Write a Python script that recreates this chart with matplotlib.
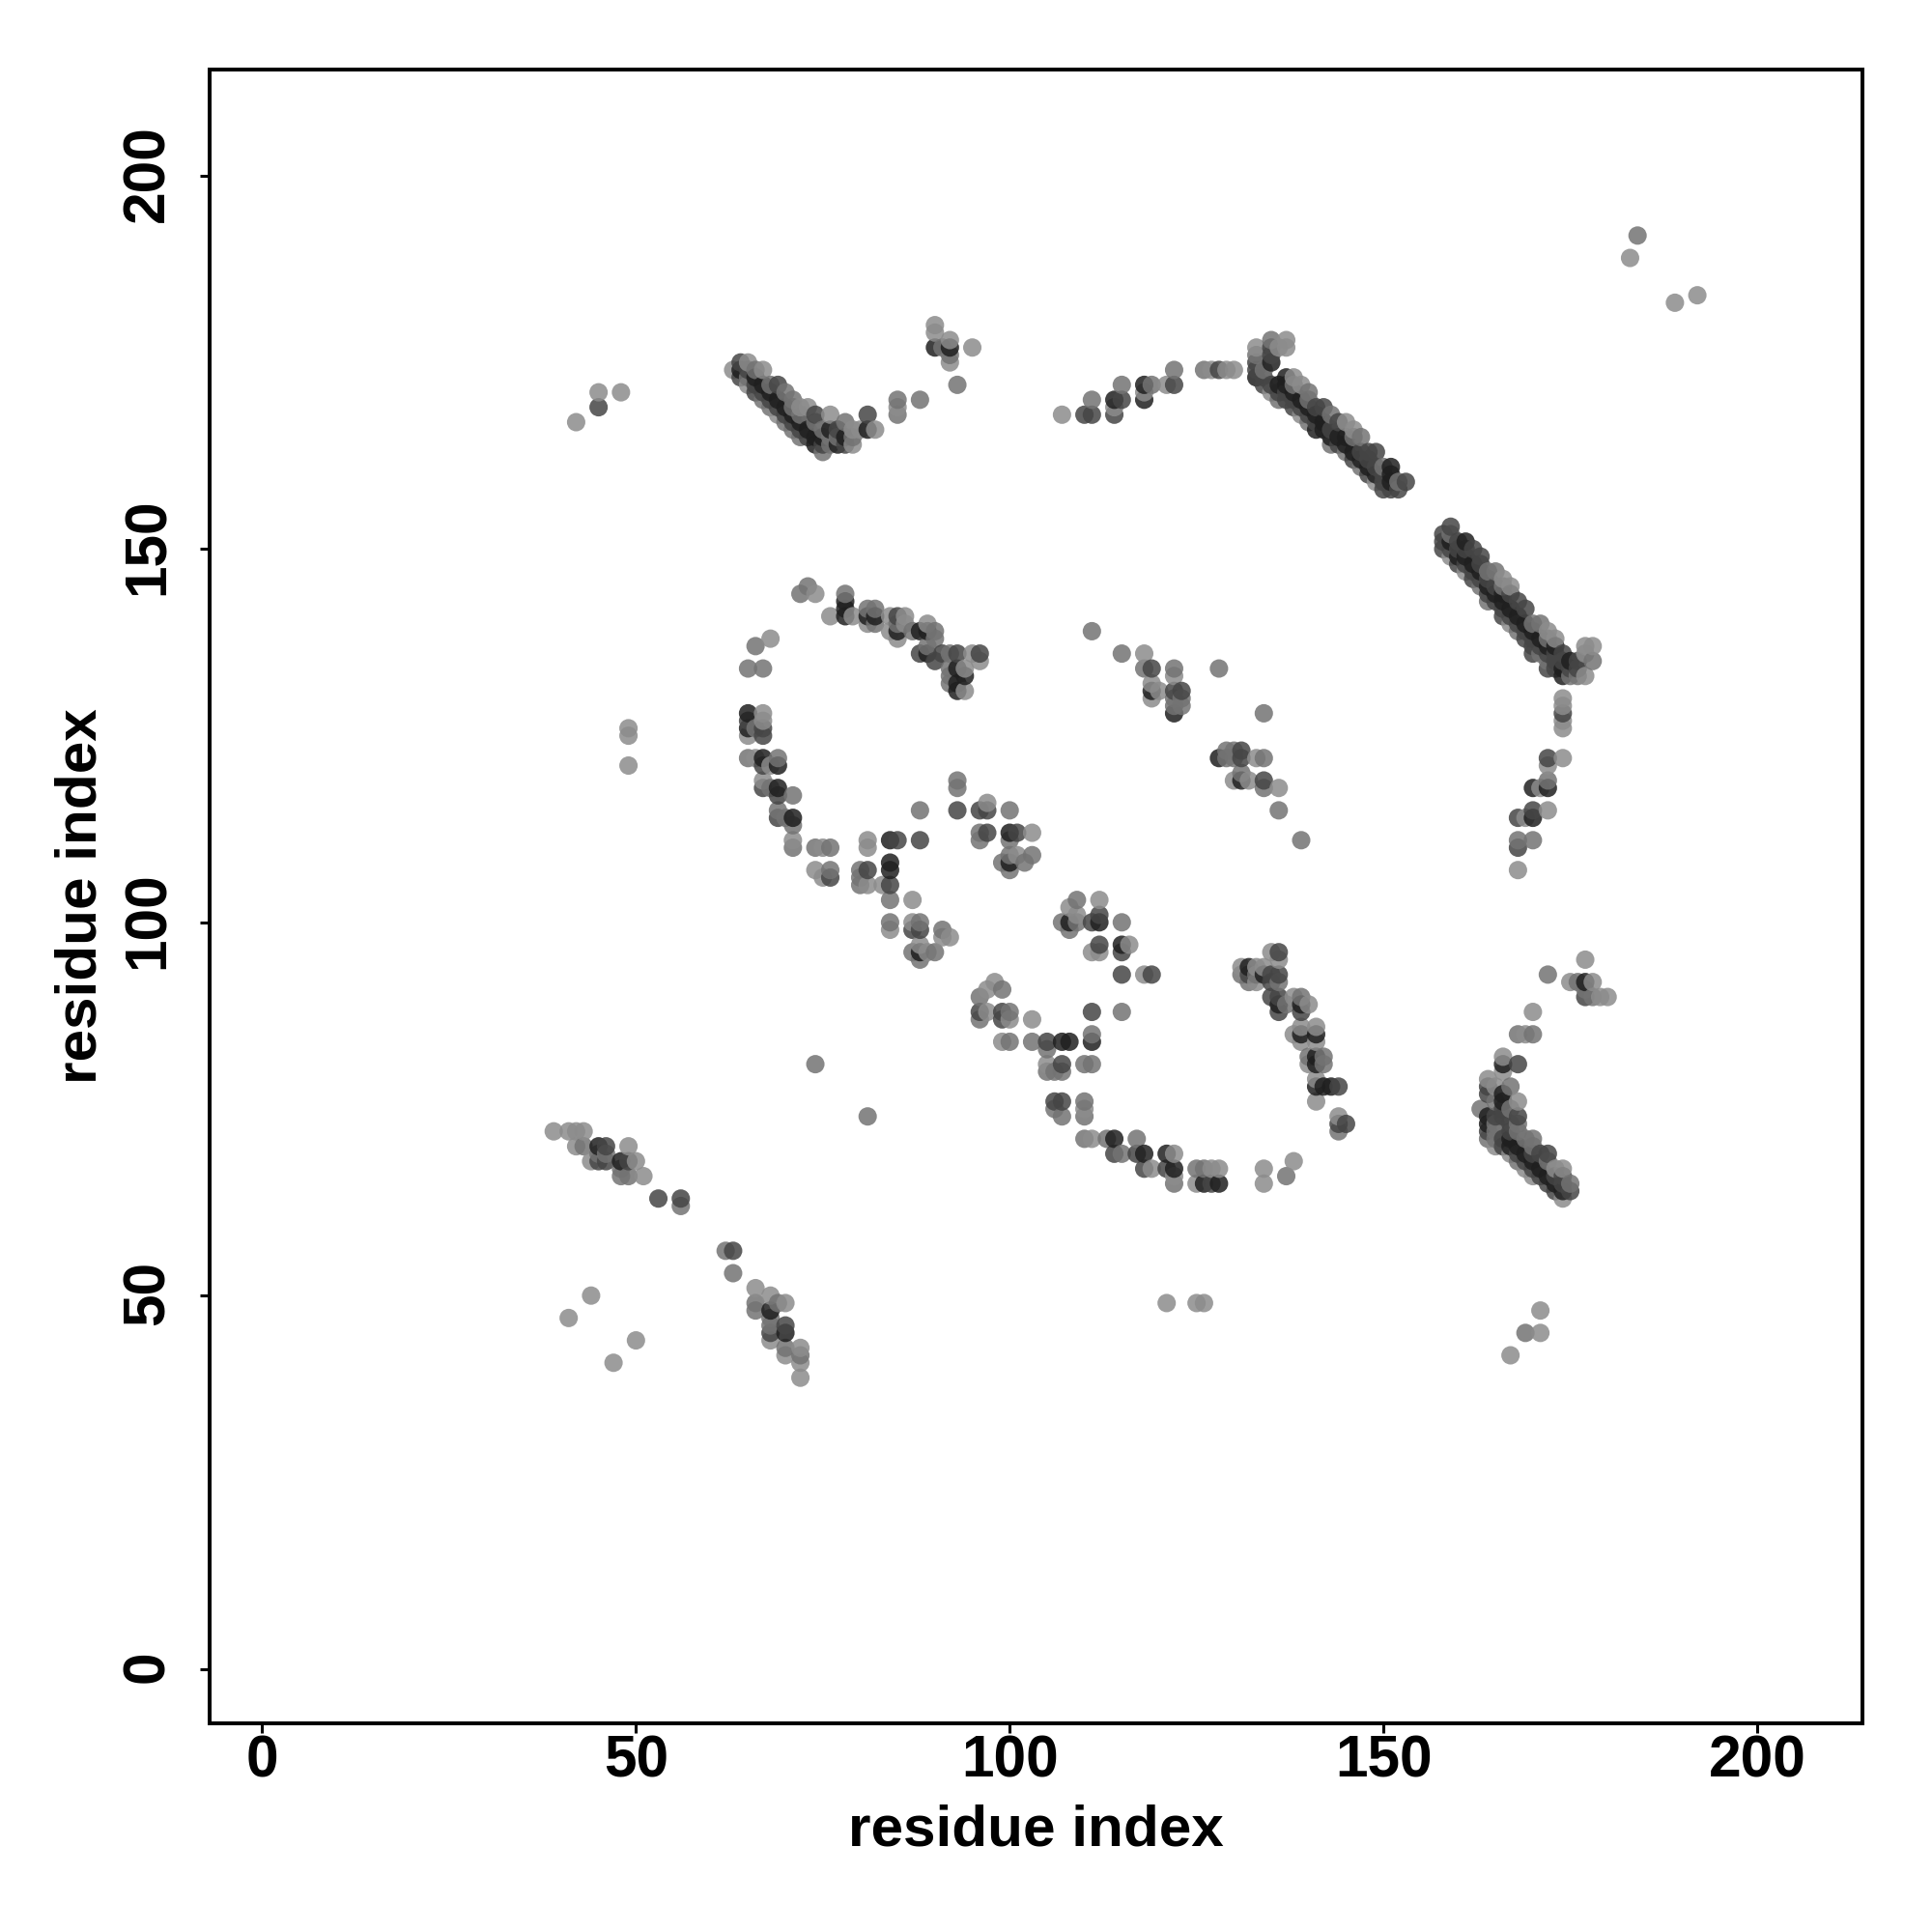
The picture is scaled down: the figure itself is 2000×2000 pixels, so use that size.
import numpy as np
import matplotlib
matplotlib.use("Agg")
import matplotlib.pyplot as plt
from matplotlib.transforms import ScaledTranslation

plt.rcParams['font.family'] = ['Liberation Sans', 'DejaVu Sans']
plt.rcParams['font.weight'] = 'bold'

# contacts, (residue x, residue y), one list per grey level
light_pts = [
    (63,174),(65,175),(67,174),(69,168),(72,169),(73,169),(76,168),(79,166),(79,164),(80,166),
    (90,180),(90,179),(92,178),(92,175),(85,169),(82,166),(65,172),(95,177),
    (136,177),(137,178),(137,177),(133,177),(135,171),(138,173),(139,172),(139,168),(145,167),(146,166),(149,159),
    (159,149),(161,147),(166,146),(167,145),(167,140),(172,139),(173,138),(177,137),(178,137),(177,136),(177,133),
    (174,130),(174,129),(174,127),(174,126),(174,122),(172,121),(171,118),(172,115),(169,114),(168,107),
    (74,144),(76,141),(79,141),(81,140),(84,141),(86,141),(85,138),(84,139),(86,140),(89,140),(95,136),(96,135),(94,134),(94,131),
    (68,138),(67,128),(67,127),(65,125),(66,122),(68,121),(67,119),(71,111),(75,110),(74,107),(75,106),
    (81,111),(81,110),(81,105),(83,105),(87,103),(97,116),(103,112),(101,109),(84,99),(87,100),(92,98),(91,98),(88,97),(89,96),
    (112,103),(108,102),(109,101),(111,96),(112,96),(116,97),(118,93),(98,92),(97,91),(97,88),(100,87),(103,87),(99,84),
    (105,81),(110,75),(111,71),(119,67),(122,69),(122,66),(125,65),(127,67),(128,67),(134,67),(134,65),(138,68),
    (135,96),(136,95),(131,94),(133,94),(134,94),(133,92),(138,90),(140,89),(138,85),(139,86),(139,84),(141,86),(141,84),(140,81),(141,79),(141,76),(144,74),
    (177,95),(175,92),(178,92),(179,90),(180,90),(170,88),(169,85),(166,82),(164,79),(166,80),(165,78),(168,76),(165,70),(167,69),(169,67),(166,70),(170,66),(173,67),(174,67),(174,63),
    (39,72),(41,72),(42,72),(43,72),(42,70),(44,68),(49,70),(50,68),(51,66),
    (66,51),(68,50),(70,49),(68,44),(70,42),(72,43),(72,41),(72,39),(44,50),(41,47),(50,44),(47,41),
    (167,42),(171,45),(171,48),(121,49),(125,49),(126,49),(49,126),(49,125),(49,121),(42,167),(45,171),(48,171),
    (183,189),(189,183),(192,184),(107,168),(114,169),(118,171),(121,172),(127,174),(129,174),(130,174),
    (118,136),(122,133),(119,132),(120,131),(119,130),(133,122),(130,119),(132,119),(136,118),
]
mid_pts = [
    (65,173),(66,174),(67,170),(68,172),(68,169),(70,171),(70,167),(71,170),(71,169),(71,166),(72,168),(72,165),(74,167),(75,166),(75,163),(76,165),(76,164),(77,165),(78,167),(79,165),
    (91,177),(92,176),(93,172),(85,170),(88,170),(85,168),
    (133,176),(135,178),(134,174),(136,170),(138,172),(140,171),(140,170),(140,167),(143,168),(143,164),(145,163),(146,165),(147,165),(147,161),(150,161),(152,159),
    (159,152),(163,145),(164,147),(164,143),(165,147),(166,145),(168,139),(170,140),(171,140),(171,136),(172,138),(172,135),(175,133),(176,133),(178,135),
    (172,119),(170,111),(168,111),
    (72,144),(73,145),(78,144),(81,142),(82,142),(82,140),(85,140),(87,139),(90,139),(90,138),(89,137),(92,136),(92,134),(92,133),(92,132),
    (66,137),(65,134),(67,134),(66,126),(65,122),(69,122),(68,118),(71,117),(69,115),(70,114),(71,113),(71,110),(74,110),(76,110),(76,107),
    (80,107),(80,106),(80,105),(84,103),(88,115),(93,119),(93,118),(100,115),(96,112),(96,111),(100,111),
    (103,109),(102,108),(100,109),(99,108),(100,107),(84,100),(88,100),(91,99),(87,96),(90,96),(88,95),
    (109,103),(107,100),(109,100),(108,99),(115,100),(99,91),(96,90),(96,87),(100,88),(115,88),(100,84),(103,84),(111,85),(105,83),
    (105,80),(106,80),(107,80),(110,81),(111,81),(106,75),(107,74),(110,76),(110,74),(110,71),(113,71),(117,71),(115,69),(122,65),(125,67),(126,67),(137,66),
    (131,93),(133,93),(132,92),(136,92),(137,89),(139,90),(140,82),(142,82),(142,81),(144,72),
    (172,93),(176,92),(177,91),(178,90),(168,85),(170,85),(163,75),(167,78),(165,76),(167,75),(164,71),(165,73),(165,72),(165,71),(168,73),(168,72),(168,68),(169,71),(170,71),(170,70),(172,68),(175,65),
    (43,70),(45,69),(46,69),(48,67),(48,66),(49,66),(56,62),(62,56),(63,53),(69,49),(66,49),(66,48),(68,47),(68,46),(70,43),(72,42),
    (169,45),(81,74),(74,81),(184,192),(111,170),(115,172),(119,172),(122,174),(126,174),
    (111,139),(115,136),(118,134),(122,134),(128,134),(134,128),(122,130),(123,130),(122,129),(123,129),(129,123),(129,122),(130,123),(130,122),(134,122),(131,120),(134,118),(136,115),(139,111),
]
dark_pts = [
    (64,175),(64,173),(65,174),(66,172),(66,171),(67,171),(68,170),(69,172),(69,169),(70,168),(71,167),(72,166),(73,165),(74,168),(75,164),(77,166),(78,164),(81,168),
    (133,175),(133,174),(134,173),(134,172),(135,177),(135,176),(135,172),(136,171),(137,171),(137,170),(138,170),(138,169),(139,169),(140,168),(141,169),(141,167),(142,169),
    (143,166),(144,167),(144,164),(146,162),(147,163),(148,163),(148,162),(148,160),(149,163),(149,161),(150,160),(150,159),(150,158),(151,158),(152,158),(153,159),
    (158,152),(158,151),(158,150),(159,153),(159,150),(160,151),(160,150),(160,148),(161,150),(161,148),(162,150),(162,147),(162,146),(163,149),(163,148),(163,146),(164,146),(164,144),
    (165,145),(165,143),(166,142),(166,141),(167,144),(167,141),(168,143),(168,140),(169,142),(169,139),(169,138),(170,138),(170,137),(170,136),(171,137),(172,136),(172,134),(173,136),(173,135),(173,134),
    (174,136),(174,135),(175,134),(176,135),(176,134),
    (174,128),(172,122),(170,115),(168,114),(168,110),
    (85,141),(88,136),(90,135),(91,136),(96,136),(93,136),
    (67,126),(67,125),(65,127),(67,121),(67,118),(69,117),(69,114),(76,106),(81,107),(85,111),(88,111),(84,105),(93,115),(96,115),(97,115),(97,112),(101,112),
    (87,99),(88,99),(111,100),(112,101),(112,97),(115,96),(115,93),(119,93),(99,88),(99,87),(96,88),(111,88),(105,84),(107,81),(106,76),(107,76),
    (114,69),(117,69),(118,67),(121,67),(127,65),
    (136,96),(135,93),(136,93),(132,93),(135,92),(135,90),(136,90),(136,88),(139,88),(144,78),(144,73),(145,73),
    (177,90),(168,81),(164,78),(164,77),(166,75),(166,74),(168,74),(164,72),(165,74),(166,71),(166,70),(167,73),(167,72),(168,69),(169,68),(170,69),(170,67),(171,69),(171,66),(172,69),(172,65),(173,66),(173,64),(174,66),(174,65),(175,64),
    (46,70),(45,68),(46,68),(49,68),(53,63),(56,63),(63,56),(68,45),(70,46),(45,169),
    (110,168),(111,168),(114,168),(115,170),(122,172),(128,174),
    (119,134),(122,131),(123,131),(131,123),(131,122),(134,119),
]
darkest_pts = [
    (64,174),(66,173),(67,172),(68,171),(69,170),(70,169),(71,168),(72,167),(73,166),(74,165),(74,164),(75,165),(76,166),(77,164),(78,165),(81,166),
    (90,177),(92,177),
    (133,173),(135,175),(136,172),(137,173),(137,172),(138,171),(139,170),(140,169),(141,168),(141,166),(142,167),(142,166),(143,165),(144,165),(145,165),(145,164),(146,163),(147,162),(148,161),(149,160),(151,161),(151,160),(151,159),
    (159,151),(160,149),(161,151),(161,149),(162,148),(163,147),(164,145),(165,144),(166,144),(166,143),(167,142),(168,141),(169,140),(170,139),(171,138),(172,137),(173,137),(174,134),(174,133),(175,135),
    (172,118),(170,118),(170,114),
    (78,143),(78,142),(78,141),(81,141),(82,141),(85,139),(88,139),(89,139),(89,136),(93,134),(93,132),(93,131),(94,133),
    (65,128),(65,126),(67,122),(69,121),(69,118),(71,114),(84,111),(84,108),(84,107),
    (100,112),(100,108),(88,96),(108,100),(112,100),(115,97),(107,84),(108,84),(111,84),
    (114,71),(118,69),(121,69),(122,67),(126,65),(128,65),
    (132,94),(134,93),(136,89),(139,89),(139,85),(141,85),(141,82),(141,81),(141,78),(142,78),(143,78),
    (177,92),(166,81),(166,77),(166,76),(164,74),(164,73),(167,71),(167,70),(168,70),(169,69),(170,68),(171,67),(172,66),(173,65),(174,64),
    (45,70),(48,68),(68,48),(70,45),
    (114,170),(118,170),(118,172),
    (119,131),(122,128),(128,122),(131,119),
]
grey_levels = [0.55, 0.45, 0.27, 0.12]
tick_values = [0, 50, 100, 150, 200]
axis_label = "residue index"

# stack everything and draw in x then y order, so upper points end up on top
xs, ys, cols = [], [], []
for pts, g in zip([light_pts, mid_pts, dark_pts, darkest_pts], grey_levels):
    for p in pts:
        xs.append(p[0])
        ys.append(p[1])
        cols.append((g, g, g))
xs = np.array(xs)
ys = np.array(ys)
cols = np.array(cols)
order = np.lexsort((ys, xs))

fig = plt.figure(figsize=(10, 10), dpi=200)
ax = fig.add_axes([0.10825, 0.108, 0.8558, 0.85625])
ax.scatter(xs[order], ys[order], c=cols[order], s=47, linewidths=0, alpha=0.85, zorder=3)

ax.set_xlim(-7.1, 214.1)
ax.set_ylim(-7.3, 214.3)
ax.set_xticks(tick_values)
ax.set_yticks(tick_values)
ax.tick_params(axis='x', length=3.6, width=1.1, labelsize=21.8, pad=0.6)
ax.tick_params(axis='y', length=3.6, width=1.1, labelsize=21.8, pad=8.6)
# rotated labels sit a little high in the original
nudge = ScaledTranslation(0, 2.5 / 200, fig.dpi_scale_trans)
for lab in ax.get_yticklabels():
    lab.set_rotation(90)
    lab.set_va('center')
    lab.set_transform(lab.get_transform() + nudge)
for s in ax.spines.values():
    s.set_linewidth(1.44)

ax.set_xlabel(axis_label, fontsize=21.7, fontweight='bold', labelpad=5.2)
ax.set_ylabel(axis_label, fontsize=21.7, fontweight='bold', labelpad=5)

fig.savefig("out.png", dpi=200)
